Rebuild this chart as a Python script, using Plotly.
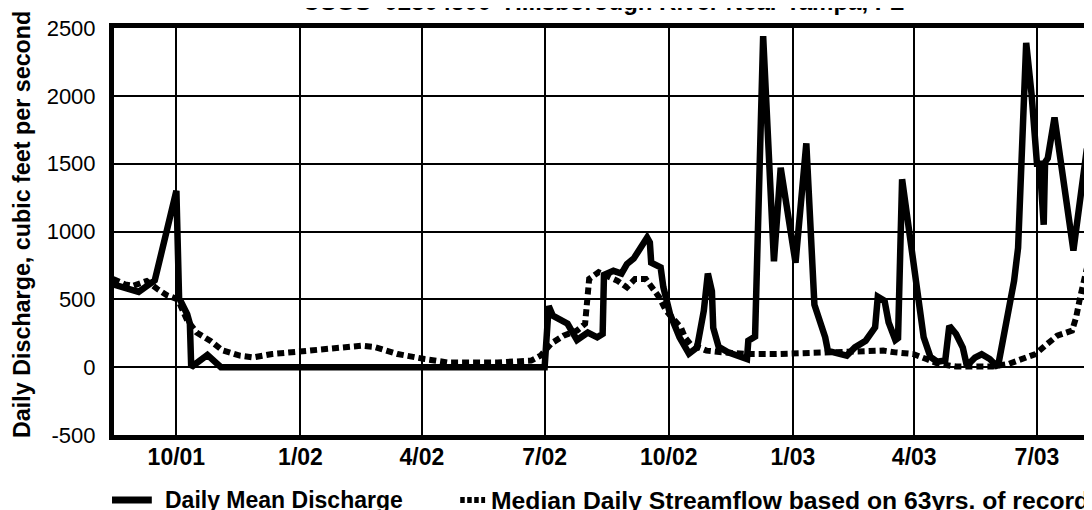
import plotly.graph_objects as go

# ---- data ----
discharge_dates = [
    "2001-08-15", "2001-08-25", "2001-09-03", "2001-09-15", "2001-10-01", "2001-10-03",
    "2001-10-09", "2001-10-11", "2001-10-12", "2001-10-24", "2001-11-03", "2002-07-01",
    "2002-07-04", "2002-07-07", "2002-07-18", "2002-07-25", "2002-08-02", "2002-08-09",
    "2002-08-13", "2002-08-14", "2002-08-21", "2002-08-27", "2002-08-31", "2002-09-05",
    "2002-09-15", "2002-09-17", "2002-09-18", "2002-09-25", "2002-09-27", "2002-10-02",
    "2002-10-09", "2002-10-16", "2002-10-22", "2002-10-27", "2002-10-30", "2002-11-02",
    "2002-11-03", "2002-11-07", "2002-11-14", "2002-11-28", "2002-11-29", "2002-12-04",
    "2002-12-10", "2002-12-18", "2002-12-23", "2003-01-03", "2003-01-11", "2003-01-17",
    "2003-01-25", "2003-01-27", "2003-02-01", "2003-02-10", "2003-02-16", "2003-02-24",
    "2003-03-03", "2003-03-05", "2003-03-10", "2003-03-13", "2003-03-18", "2003-03-20",
    "2003-03-23", "2003-03-27", "2003-04-01", "2003-04-05", "2003-04-08", "2003-04-13",
    "2003-04-18", "2003-04-24", "2003-04-27", "2003-05-02", "2003-05-07", "2003-05-10",
    "2003-05-16", "2003-05-21", "2003-05-27", "2003-06-02", "2003-06-09", "2003-06-14",
    "2003-06-17", "2003-06-20", "2003-06-23", "2003-06-27", "2003-07-01", "2003-07-03",
    "2003-07-06", "2003-07-07", "2003-07-09", "2003-07-14", "2003-07-28", "2003-08-07",
]
discharge_values = [
    610, 575, 555, 640, 1300, 510,
    390, 320, 0, 90, 0, 0,
    450, 380, 320, 200, 255, 220,
    245, 680, 710, 690, 760, 800,
    955, 920, 770, 735, 590, 390,
    220, 100, 145, 415, 690, 560,
    290, 150, 110, 60, 195, 225,
    2440, 780, 1470, 770, 1650, 460,
    220, 120, 105, 85, 146, 195,
    293, 520, 490, 330, 200, 215,
    1385, 1080, 735, 465, 220, 75,
    40, 50, 305, 245, 145, 10,
    70, 95, 60, 0, 340, 635,
    880, 1740, 2390, 2010, 1500, 1500,
    1050, 1510, 1540, 1840, 860, 1610,
]

median_dates = [
    "2001-08-15", "2001-08-24", "2001-08-30", "2001-09-09", "2001-09-17", "2001-09-24",
    "2001-10-02", "2001-10-09", "2001-10-16", "2001-10-26", "2001-11-04", "2001-11-17",
    "2001-11-27", "2001-12-11", "2001-12-31", "2002-01-24", "2002-02-15", "2002-02-25",
    "2002-03-14", "2002-04-03", "2002-04-20", "2002-05-27", "2002-06-21", "2002-06-28",
    "2002-07-06", "2002-07-15", "2002-07-25", "2002-07-31", "2002-08-03", "2002-08-10",
    "2002-08-18", "2002-08-24", "2002-08-31", "2002-09-06", "2002-09-14", "2002-09-20",
    "2002-09-24", "2002-09-29", "2002-10-03", "2002-10-10", "2002-10-13", "2002-10-17",
    "2002-10-23", "2002-10-29", "2002-11-11", "2002-11-30", "2002-12-20", "2003-01-09",
    "2003-01-28", "2003-02-16", "2003-03-09", "2003-03-18", "2003-03-31", "2003-04-10",
    "2003-04-19", "2003-05-02", "2003-05-16", "2003-05-29", "2003-06-10", "2003-06-21",
    "2003-06-30", "2003-07-07", "2003-07-16", "2003-07-27", "2003-07-30", "2003-08-02",
    "2003-08-07",
]
median_values = [
    650, 610, 600, 635, 575, 530,
    500, 345, 255, 195, 125, 85,
    72, 97, 115, 135, 158, 148,
    97, 60, 35, 35, 48, 85,
    175, 232, 270, 320, 650, 700,
    660, 637, 588, 650, 650, 576,
    514, 416, 367, 293, 220, 171,
    146, 122, 109, 97, 97, 102,
    109, 122, 122, 109, 97, 60,
    24, 5, 0, 5, 24, 60,
    97, 158, 232, 269, 367, 514,
    730,
]

x_tick_dates = ["2001-10-01", "2002-01-01", "2002-04-01", "2002-07-01",
                "2002-10-01", "2003-01-01", "2003-04-01", "2003-07-01"]
x_tick_labels = ["10/01", "1/02", "4/02", "7/02", "10/02", "1/03", "4/03", "7/03"]
y_tick_values = [-500, 0, 500, 1000, 1500, 2000, 2500]
y_tick_labels = ["-500", "0", "500", "1000", "1500", "2000", "2500"]

title_text = "USGS  02304500  Hillsborough River Near Tampa, FL"
y_title_text = "Daily Discharge, cubic feet per second"
series_names = ["Daily Mean Discharge", "Median Daily Streamflow based on 63yrs. of record"]

FONT = "Liberation Sans, Arial, sans-serif"
# the page body adds an 8px offset; figure is sized so it ends at the window edge
OFF = 8
W, H = 1092 - OFF, 510 - OFF
ML, MR, MT, MB = 106, 0, 20, 75
PW, PH = W - ML - MR, H - MT - MB


def px_x(sx):  # screen pixel -> paper x
    return (sx - OFF - ML) / PW


def px_y(sy):  # screen pixel -> paper y
    return (H - MB - (sy - OFF)) / PH


fig = go.Figure()
fig.add_trace(go.Scatter(
    x=discharge_dates, y=discharge_values, mode="lines", name=series_names[0],
    line=dict(color="black", width=6.5), showlegend=False,
))
fig.add_trace(go.Scatter(
    x=median_dates, y=median_values, mode="lines", name=series_names[1],
    line=dict(color="black", width=6, dash="7px,4px"), showlegend=False,
))

legend_y = 500

fig.update_layout(
    width=W, height=H,
    margin=dict(l=ML, r=MR, t=MT, b=MB),
    paper_bgcolor="white", plot_bgcolor="white",
    font=dict(family=FONT, color="black"),
    showlegend=False,
    xaxis=dict(
        type="date",
        range=["2001-08-15 18:00", "2003-08-07 02:00"],
        tickvals=x_tick_dates, ticktext=x_tick_labels,
        tickfont=dict(family=FONT, size=23, weight="bold", color="black"),
        showgrid=True, gridcolor="black", gridwidth=2,
        showline=True, linecolor="black", linewidth=5, mirror=True,
        ticks="", zeroline=False, ticklabelstandoff=-3,
    ),
    yaxis=dict(
        range=[-500, 2500],
        tickvals=y_tick_values, ticktext=y_tick_labels,
        tickfont=dict(family=FONT, size=22, color="black"),
        showgrid=True, gridcolor="black", gridwidth=2,
        showline=True, linecolor="black", linewidth=5, mirror=True,
        ticks="", zeroline=False, ticklabelstandoff=9,
    ),
    shapes=[
        dict(type="line", xref="paper", yref="paper",
             x0=px_x(112), x1=px_x(152), y0=px_y(legend_y), y1=px_y(legend_y),
             line=dict(color="black", width=7)),
        dict(type="line", xref="paper", yref="paper",
             x0=px_x(462), x1=px_x(487), y0=px_y(legend_y), y1=px_y(legend_y),
             line=dict(color="black", width=6, dash="4.5px,2.5px")),
    ],
    annotations=[
        dict(text=title_text, xref="paper", yref="paper", x=px_x(606), y=1,
             xanchor="center", yanchor="bottom", yshift=11, showarrow=False,
             font=dict(family=FONT, size=24, weight="bold", color="black")),
        dict(text=y_title_text, xref="paper", yref="paper", x=px_x(21.5), y=px_y(224),
             xanchor="center", yanchor="middle", textangle=-90, showarrow=False,
             font=dict(family=FONT, size=23.3, weight="bold", color="black")),
        dict(text=series_names[0], xref="paper", yref="paper", x=px_x(163), y=px_y(legend_y),
             xanchor="left", yanchor="middle", showarrow=False,
             font=dict(family=FONT, size=23, weight="bold", color="black")),
        dict(text=series_names[1], xref="paper", yref="paper", x=px_x(491), y=px_y(legend_y),
             xanchor="left", yanchor="middle", showarrow=False,
             font=dict(family=FONT, size=24.7, weight="bold", color="black")),
    ],
)

fig.write_html("out.html")
